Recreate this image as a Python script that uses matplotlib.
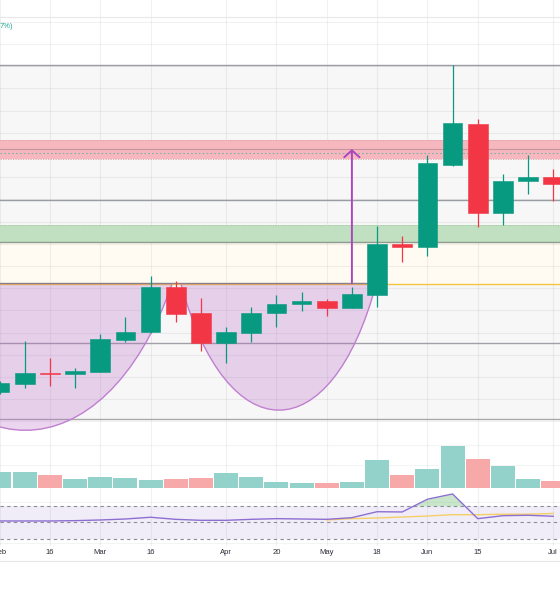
import numpy as np
import matplotlib
matplotlib.use('Agg')
import matplotlib.pyplot as plt
from matplotlib.path import Path
from matplotlib.patches import PathPatch
from matplotlib.lines import Line2D
from matplotlib.transforms import blended_transform_factory

# --- velas semanales ---
opens  = [42.32, 42.68, 43.18, 43.15, 43.24, 44.68, 45.01, 47.07, 45.90, 44.55, 45.00, 45.87,
          46.27, 46.42, 46.12, 46.69, 49.00, 48.87, 52.56, 54.41, 50.39, 51.83, 52.02]
highs  = [42.82, 44.62, 43.86, 43.41, 44.94, 45.70, 47.55, 47.32, 46.56, 45.25, 46.14, 46.69,
          46.83, 46.50, 47.04, 49.80, 49.35, 53.00, 57.05, 54.62, 52.14, 53.00, 52.37]
lows   = [42.23, 42.50, 42.59, 42.50, 43.23, 44.59, 45.00, 45.49, 44.18, 43.64, 44.59, 45.27,
          45.97, 45.75, 46.10, 46.15, 48.16, 48.45, 52.50, 49.74, 49.83, 51.23, 50.94]
closes = [42.73, 43.18, 43.15, 43.27, 44.71, 45.03, 47.07, 45.85, 44.55, 45.04, 45.90, 46.29,
          46.42, 46.09, 46.73, 48.98, 48.87, 52.63, 54.44, 50.39, 51.84, 52.02, 51.69]
volumen = [480, 480, 400, 280, 330, 310, 250, 270, 310, 450, 330, 190,
           150, 150, 190, 850, 390, 580, 1270, 870, 680, 280, 230]
rsi = [51.6, 51.6, 51.6, 52.0, 52.8, 54.0, 56.1, 53.6, 52.4, 52.4, 53.6, 54.4,
       54.0, 53.6, 55.6, 62.8, 62.5, 77.9, 84.3, 54.4, 58.0, 58.5, 57.3]
rsi_ma = [52.8, 54.4, 55.2, 56.4, 57.6, 59.2, 59.2, 59.8, 59.8, 60.7]  # desde la vela 13

etiquetas_pos = [0, 2, 4, 6, 9, 11, 13, 15, 17, 19, 22]
etiquetas = ['Feb', '16', 'Mar', '16', 'Apr', '20', 'May', '18', 'Jun', '15', 'Jul']

# --- niveles dibujados ---
caja_alto, caja_bajo = 57.05, 41.11
rosa_alto, rosa_bajo, rosa_linea, rosa_punteada = 53.68, 52.84, 53.26, 53.07
nivel_gris = 50.97
verde_alto, verde_bajo = 49.85, 49.06
crema_bajo = 47.21
linea_taza, linea_amarilla = 47.22, 47.17
nivel_bajo = 44.52
linea_sup = 59.22

# curvas de las tazas (puntos de control Bezier: indice, precio)
taza_izq = [(-4.83, 47.18), (-2.09, 38.41), (4.15, 38.41), (6.85, 47.18)]
taza_der = [(7.21, 47.18), (9.04, 39.62), (13.17, 39.62), (14.96, 47.18)]
flecha_x, flecha_y0, flecha_y1 = 14.0, 47.22, 53.27

o = np.array(opens); c = np.array(closes)
h = np.array(highs); l = np.array(lows)
x = np.arange(len(o))
rsi = np.array(rsi)

XMIN, XMAX = 0.0187, 22.268
W, H = 560, 600

fig = plt.figure(figsize=(5.6, 6), dpi=100)
ax = fig.add_axes([0, 163 / H, 1, 437 / H])
axv = fig.add_axes([0, 110 / H, 1, 53 / H])
axr = fig.add_axes([0, 54 / H, 1, 56 / H])
for a in (ax, axv, axr):
    a.set_xlim(XMIN, XMAX)
    a.axis('off')
    for p in etiquetas_pos:
        a.axvline(p, color='black', alpha=0.055, lw=0.8, zorder=1)

ax.set_ylim(40.30, 59.98)
axv.set_ylim(-51, 1539)
axr.set_ylim(21.3, 89.1)

# --- panel de precio ---
for p in range(40, 60):
    ax.axhline(p, color='black', alpha=0.055, lw=0.8, zorder=1)
ax.axhline(linea_sup, color='#e8e8e8', lw=0.8, zorder=1)
ax.axhspan(caja_bajo, caja_alto, color='#f7f7f7', lw=0, zorder=0.5)
ax.axhspan(crema_bajo, verde_bajo, color='#fffbf2', lw=0, zorder=0.6)
ax.axhspan(rosa_bajo, rosa_alto, color='#f6b7bf', lw=0, zorder=1.5)
ax.axhspan(verde_bajo, verde_alto, color='#c1dfc1', lw=0, zorder=1.5)
ax.axhline(caja_alto, color='#9a9ca4', lw=1, zorder=2)
ax.axhline(caja_bajo, color='#a8a8ac', lw=1, zorder=2)
for y in (rosa_alto, rosa_bajo):
    ax.axhline(y, color='#d9a0a8', lw=0.6, ls=(0, (1.5, 1.5)), zorder=2)
ax.axhline(rosa_linea, color='#c8959c', lw=0.8, zorder=2)
ax.axhline(rosa_punteada, color='#7fb3a8', lw=0.8, ls=(0, (1.5, 2)), zorder=2)
ax.axhline(nivel_gris, color='#9a9ca4', lw=1, zorder=2)
ax.axhline(verde_alto, color='#9fc89f', lw=0.6, ls=(0, (1.5, 1.5)), zorder=2)
ax.axhline(verde_bajo, color='#8e9992', lw=1, zorder=2)
ax.axhline(nivel_bajo, color='#a29fa8', lw=1, zorder=2)
ax.axhline(linea_amarilla, color='#f5c542', lw=1, zorder=2)
ax.plot([XMIN - 1, 14.6], [linea_taza, linea_taza], color='#8c7f8c', lw=1, zorder=2.5)

for pts in (taza_izq, taza_der):
    codes = [Path.MOVETO, Path.CURVE4, Path.CURVE4, Path.CURVE4, Path.CLOSEPOLY]
    relleno = Path(pts + [pts[0]], codes)
    ax.add_patch(PathPatch(relleno, facecolor='#ba68c8', alpha=0.28, lw=0, zorder=3))
    curva = Path(pts, codes[:4])
    ax.add_patch(PathPatch(curva, facecolor='none', edgecolor='#c07fd0', lw=1, zorder=3.5))

ax.annotate('', xy=(flecha_x, flecha_y1), xytext=(flecha_x, flecha_y0),
            arrowprops=dict(arrowstyle='->,head_length=0.5,head_width=0.55', color='#ab47bc',
                            lw=1.4, mutation_scale=10, shrinkA=0, shrinkB=0), zorder=4)

sube = c >= o
col = np.where(sube, '#089981', '#f23645')
ax.vlines(x, l, h, colors=col, lw=0.9, zorder=5)
ax.bar(x, np.maximum(np.abs(c - o), 0.05), 0.78, bottom=np.minimum(o, c),
       color=col, edgecolor=col, lw=0.4, zorder=6)

# --- volumen ---
for v in (700, 1300):
    axv.axhline(v, color='black', alpha=0.045, lw=0.8, zorder=1)
col_v = np.where(sube, '#93d2ca', '#f7a9aa')
axv.bar(x, volumen, 0.95, color=col_v, lw=0, zorder=2)

# --- RSI ---
for v in (75, 25):
    axr.axhline(v, color='black', alpha=0.045, lw=0.8, zorder=1)
axr.axhspan(30, 70, color='#7e57c2', alpha=0.1, lw=0, zorder=1)
for v in (70, 50, 30):
    axr.axhline(v, color='#8a8d96', lw=0.8, ls=(0, (3, 3)), zorder=2)
axr.fill_between(x, rsi, 70, where=rsi > 70, interpolate=True, color='#4caf50', alpha=0.3, lw=0, zorder=2)
axr.plot(x[13:], rsi_ma, color='#f5c842', lw=1, alpha=0.8, zorder=3)
axr.plot(x, rsi, color='#8d6fd1', lw=1, zorder=4)

tr = blended_transform_factory(axr.transData, fig.transFigure)
for p, t in zip(etiquetas_pos, etiquetas):
    axr.text(p, 1 - 552 / H, t, ha='center', va='center', fontsize=5.5, color='#2a2e39',
             family='Liberation Sans', transform=tr, clip_on=False)

fig.add_artist(Line2D([0, 1], [1 - 561 / H] * 2, color='#e6e6e6', lw=0.8))
fig.text(0, 1 - 27 / H, '7%)', color='#22ab94', fontsize=5.5, va='center', ha='left',
         family='Liberation Sans')

fig.savefig('out.png', dpi=100)
